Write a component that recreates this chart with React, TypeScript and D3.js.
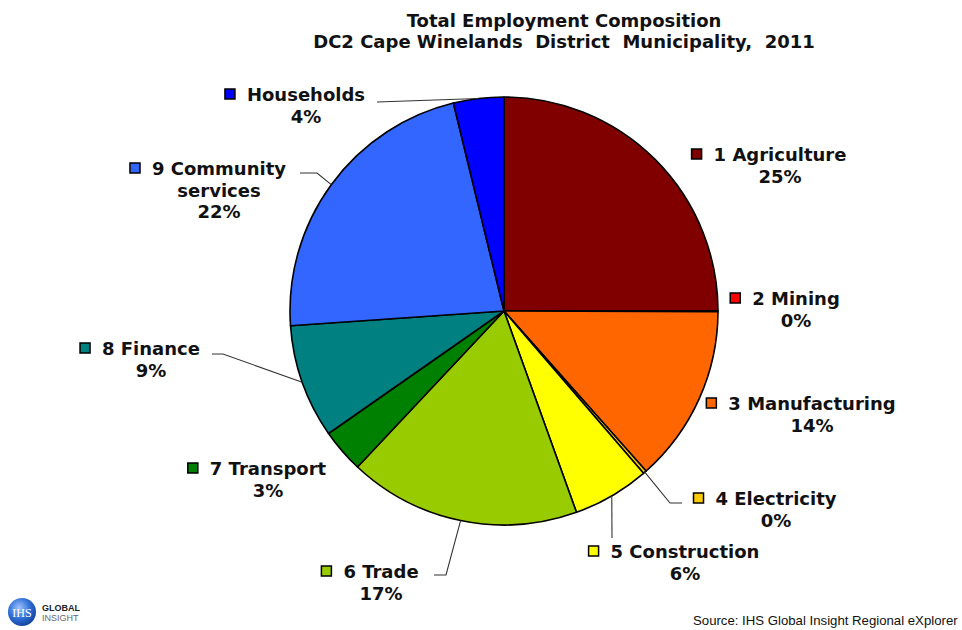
import React from "react";
import * as d3 from "d3";

const categories = ["1 Agriculture", "2 Mining", "3 Manufacturing", "4 Electricity", "5 Construction", "6 Trade", "7 Transport", "8 Finance", "9 Community services", "Households"];
const labelLines = [["1 Agriculture"], ["2 Mining"], ["3 Manufacturing"], ["4 Electricity"], ["5 Construction"], ["6 Trade"], ["7 Transport"], ["8 Finance"], ["9 Community", "services"], ["Households"]];
const shares = [25.0, 0.05, 13.4, 0.25, 5.8, 17.5, 3.3, 8.6, 22.3, 3.8];
const shownPct = ["25%", "0%", "14%", "0%", "6%", "17%", "3%", "9%", "22%", "4%"];
const colors = ["#800000", "#FF0000", "#FF6600", "#FFCC00", "#FFFF00", "#99CC00", "#008000", "#008080", "#3366FF", "#0000FF"];
const titleLines = ["Total Employment Composition", "DC2 Cape Winelands  District  Municipality,  2011"];
const sourceText = "Source: IHS Global Insight Regional eXplorer";

// layout: text block center x, first baseline y
const labelLayout = [
  { cx: 780, y: 161 },
  { cx: 796, y: 305 },
  { cx: 812, y: 410 },
  { cx: 776, y: 505 },
  { cx: 685, y: 558 },
  { cx: 381, y: 578 },
  { cx: 268, y: 475 },
  { cx: 151, y: 355 },
  { cx: 219, y: 175 },
  { cx: 306, y: 101 },
];
// leader lines: points after the arc anchor
const leaders: { i: number; pts: [number, number][] }[] = [
  { i: 9, pts: [[377, 102]] },
  { i: 8, pts: [[317, 173], [300, 173]] },
  { i: 7, pts: [[223, 354], [212, 354]] },
  { i: 5, pts: [[446, 575], [434, 575]] },
  { i: 4, pts: [[612, 538]] },
  { i: 3, pts: [[670, 503], [682, 503]] },
];

const W = 962, H = 630;
const CX = 504, CY = 311, R = 214;
const FONT = "'DejaVu Sans', Verdana, sans-serif";
const FS = 18;

function measure(text: string): number {
  if (typeof document === "undefined") return text.length * 10;
  const c = document.createElement("canvas").getContext("2d")!;
  c.font = `bold ${FS}px 'DejaVu Sans'`;
  return c.measureText(text).width;
}

export default function App() {
  const pie = d3.pie<number>().sort(null).value((d) => d).startAngle(0).endAngle(2 * Math.PI);
  const arcs = pie(shares);
  const arc = d3.arc<d3.PieArcDatum<number>>().innerRadius(0).outerRadius(R);
  const anchor = (a: d3.PieArcDatum<number>): [number, number] => {
    const m = (a.startAngle + a.endAngle) / 2;
    return [CX + R * Math.sin(m), CY - R * Math.cos(m)];
  };
  const line = d3.line();

  return (
    <svg width={W} height={H} style={{ position: "absolute", left: 0, top: 0, display: "block", background: "#fff" }}>
      <defs>
        <radialGradient id="globe" cx="40%" cy="35%" r="70%">
          <stop offset="0%" stopColor="#9fc3ff" />
          <stop offset="55%" stopColor="#2f6fd6" />
          <stop offset="100%" stopColor="#123f9a" />
        </radialGradient>
      </defs>
      <g fontFamily={FONT} fontWeight="bold" fontSize={18} textAnchor="middle" fill="#111">
        {titleLines.map((t, k) => (
          <text key={k} x={564} y={27 + k * 21} style={{ whiteSpace: "pre" }}>{t}</text>
        ))}
      </g>
      <g transform={`translate(${CX},${CY})`}>
        {arcs.map((a, i) => (
          <path key={categories[i]} d={arc(a) || ""} fill={colors[i]} stroke="#000" strokeWidth={1.6} strokeLinejoin="round" />
        ))}
      </g>
      <g fill="none" stroke="#333" strokeWidth={1.1}>
        {leaders.map((l) => (
          <path key={l.i} d={line([anchor(arcs[l.i]), ...l.pts]) || ""} />
        ))}
      </g>
      <g fontFamily={FONT} fontWeight="bold" fontSize={FS} textAnchor="middle" fill="#111">
        {labelLayout.map((p, i) => {
          const lines = [...labelLines[i], shownPct[i]];
          const w = measure(labelLines[i][0]);
          const mx = p.cx - w / 2 - 17;
          return (
            <g key={i}>
              <rect x={mx - 5} y={p.y - 12} width={10} height={10} fill={colors[i]} stroke="#000" strokeWidth={1.5} />
              {lines.map((t, k) => (
                <text key={k} x={p.cx} y={p.y + k * 21.5}>{t}</text>
              ))}
            </g>
          );
        })}
      </g>
      <g>
        <circle cx={22} cy={612} r={14} fill="url(#globe)" />
        <text x={22} y={617} textAnchor="middle" fontFamily="'Liberation Serif', serif" fontSize={12} fill="#fff">IHS</text>
        <text x={42} y={611} fontFamily="'Liberation Sans', Arial, sans-serif" fontWeight="bold" fontSize={9} fill="#222">GLOBAL</text>
        <text x={42} y={621} fontFamily="'Liberation Sans', Arial, sans-serif" fontSize={9} fill="#666">INSIGHT</text>
      </g>
      <text x={693} y={625} fontFamily="'Liberation Sans', Arial, sans-serif" fontSize={13.2} fill="#111">{sourceText}</text>
    </svg>
  );
}
